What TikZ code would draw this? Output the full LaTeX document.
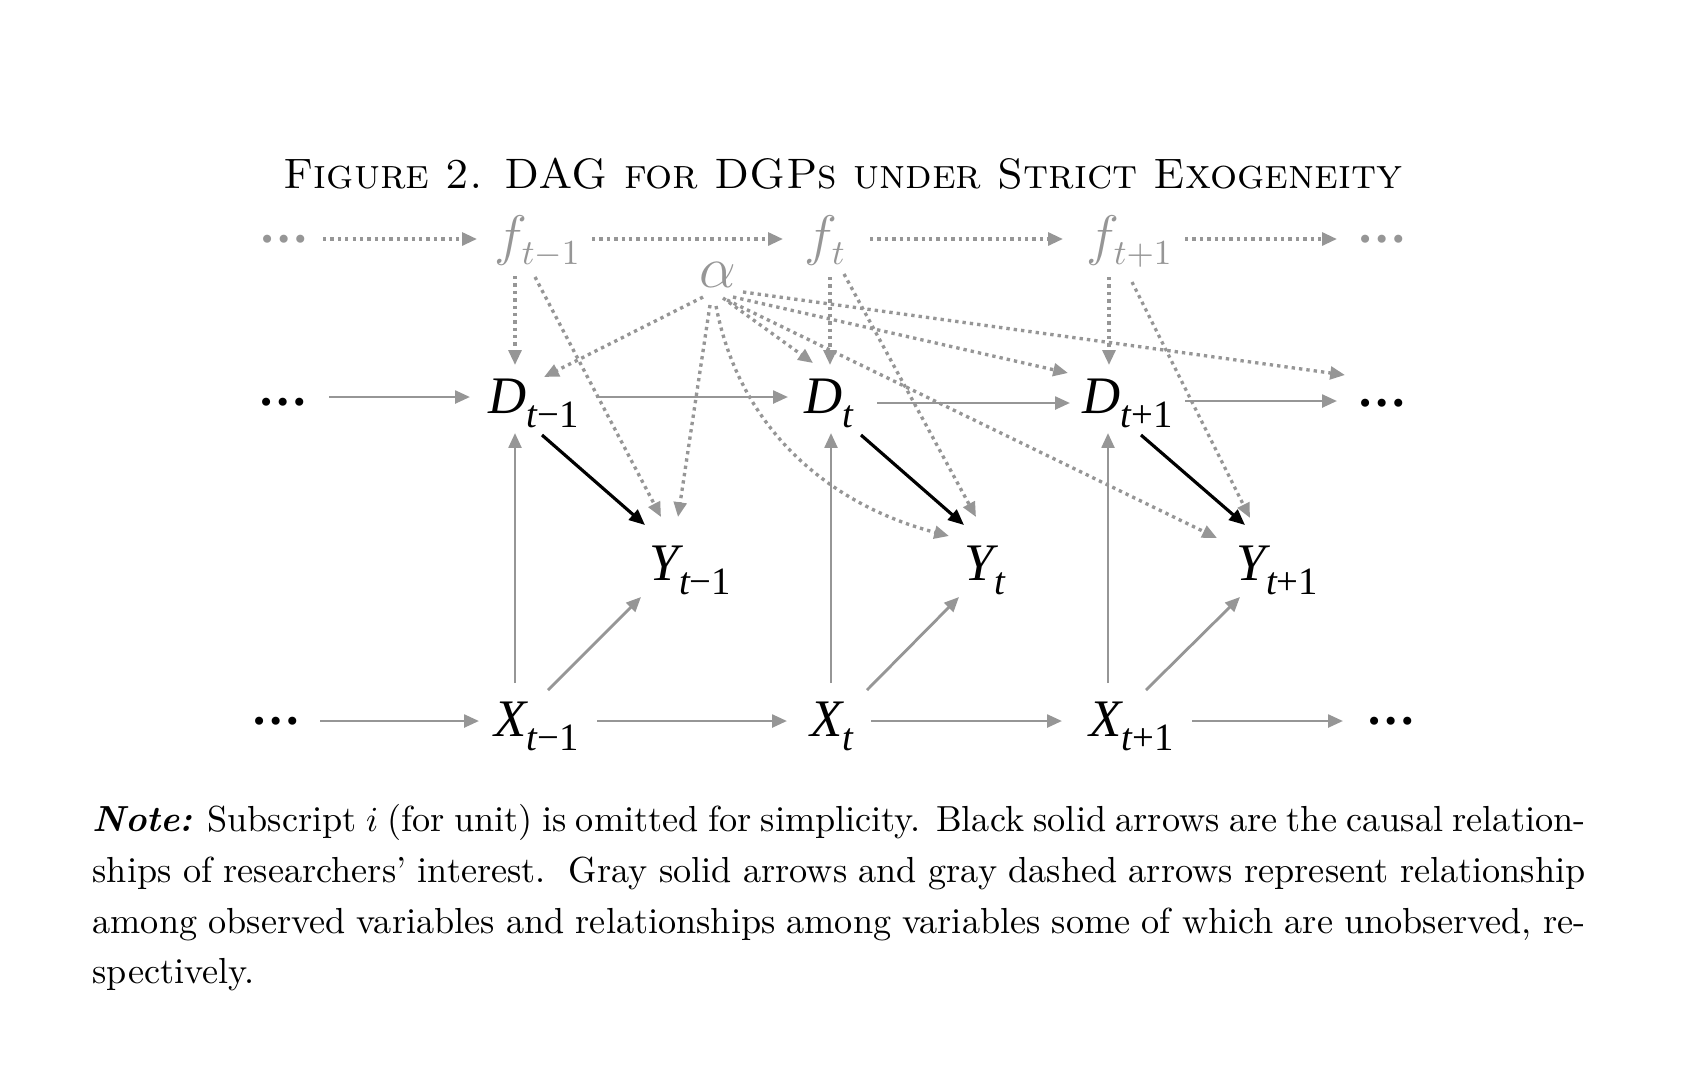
\documentclass[tikz,border=0pt]{standalone}
\usepackage{graphicx}
\usepackage{fontspec}
\usetikzlibrary{arrows.meta,calc}
\newfontfamily\tms{Liberation Serif}
\definecolor{gr}{RGB}{150,150,150}
\newcommand\vsub[2]{{\fontsize{15}{18}\selectfont\tms\itshape #1}\raisebox{-4pt}{\fontsize{11}{13}\selectfont\tms\itshape #2}}
\newcommand\fsub[1]{\scalebox{1.1}{\fontsize{14.4}{17}\selectfont$f$}\kern-1.6pt\raisebox{-3pt}{\fontsize{14.4}{17}\selectfont$\scriptstyle #1$}}
\newcommand\nfont{\fontsize{10.3}{13}\selectfont}
\tikzset{
  var/.style={inner sep=0pt, anchor=base west},
  fvar/.style={inner sep=0pt, anchor=base west, text=gr},
  ellip/.style={inner sep=0pt, anchor=center, font=\fontsize{14}{14}\selectfont\tms\bfseries},
  garr/.style={draw=gr, line width=0.8pt, -{Triangle[length=4.2pt,width=3.6pt]}},
  barr/.style={draw=black, line width=0.9pt, -{Triangle[length=4.5pt,width=3.8pt]}},
  darr/.style={draw=gr, line width=0.95pt, dash pattern=on 0.95pt off 1.15pt, -{Triangle[length=4.2pt,width=3.6pt]}},
}
\begin{document}
\begin{tikzpicture}[x=0.01cm,y=-0.01cm]
\useasboundingbox (0,0) rectangle (1690,1084);
\fill[white] (0,0) rectangle (1690,1084);

% title
\node[inner sep=0pt, anchor=base] (title) at (843,188)
  {\resizebox{11.18cm}{!}{\textsc{Figure 2. DAG for DGPs under Strict Exogeneity}}};

% f row
\node[ellip, text=gr] (fdl) at (284,239) {…};
\node[fvar] (fm) at (494,254) {\fsub{t-1}};
\node[fvar] (f0) at (804,254) {\fsub{t}};
\node[fvar] (fp) at (1086,254) {\fsub{t+1}};
\node[ellip, text=gr] (fdr) at (1382,239) {…};
\node[inner sep=0pt, text=gr] (al) at (718,275) {\scalebox{1.15}{\fontsize{14.4}{17}\selectfont$\alpha$}};

% D row
\node[ellip] (ddl) at (283,402) {…};
\node[var] (Dm) at (488,413) {\vsub{D}{t\upshape −1}};
\node[var] (D0) at (804,413) {\vsub{D}{t}};
\node[var] (Dp) at (1082,413) {\vsub{D}{t\upshape +1}};
\node[ellip] (ddr) at (1382,403) {…};

% Y row
\node[var] (Ym) at (649,580) {\vsub{Y}{t\upshape −1}};
\node[var] (Y0) at (964,580) {\vsub{Y}{t}};
\node[var] (Yp) at (1236,580) {\vsub{Y}{t\upshape +1}};

% X row
\node[ellip] (xdl) at (276,721) {…};
\node[var] (Xm) at (494,736) {\vsub{X}{t\upshape −1}};
\node[var] (X0) at (810,736) {\vsub{X}{t}};
\node[var] (Xp) at (1089,736) {\vsub{X}{t\upshape +1}};
\node[ellip] (xdr) at (1391,721) {…};

% f row arrows
\draw[darr] ($(fdl)+(39,0)$) -- ($(fm.base west)+(-17,-15)$);
\draw[darr] ($(fm.base west)+(98,-15)$) -- ($(f0.base west)+(-21,-15)$);
\draw[darr] ($(f0.base west)+(66,-15)$) -- ($(fp.base west)+(-23,-15)$);
\draw[darr] ($(fp.base west)+(99,-15)$) -- ($(fdr)+(-45,0)$);

% D row arrows
\draw[garr] ($(ddl)+(46,-5)$) -- ($(Dm.base west)+(-18,-16)$);
\draw[garr] ($(Dm.base west)+(108,-16)$) -- ($(D0.base west)+(-16,-16)$);
\draw[garr] ($(D0.base west)+(73,-10)$) -- ($(Dp.base west)+(-12,-10)$);
\draw[garr] ($(Dp.base west)+(103,-12)$) -- ($(ddr)+(-45,-2)$);

% X row arrows
\draw[garr] ($(xdl)+(44,0)$) -- ($(Xm.base west)+(-15,-15)$);
\draw[garr] ($(Xm.base west)+(103,-15)$) -- ($(X0.base west)+(-23,-15)$);
\draw[garr] ($(X0.base west)+(61,-15)$) -- ($(Xp.base west)+(-27,-15)$);
\draw[garr] ($(Xp.base west)+(103,-15)$) -- ($(xdr)+(-48,0)$);

% X -> D
\draw[garr] ($(Xm.base west)+(21,-53)$) -- ($(Dm.base west)+(27,20)$);
\draw[garr] ($(X0.base west)+(21,-53)$) -- ($(D0.base west)+(27,20)$);
\draw[garr] ($(Xp.base west)+(19,-53)$) -- ($(Dp.base west)+(26,20)$);

% X -> Y
\draw[garr] ($(Xm.base west)+(54,-46)$) -- ($(Ym.base west)+(-8,17)$);
\draw[garr] ($(X0.base west)+(57,-46)$) -- ($(Y0.base west)+(-5,17)$);
\draw[garr] ($(Xp.base west)+(57,-46)$) -- ($(Yp.base west)+(4,17)$);

% D -> Y (black)
\draw[barr] ($(Dm.base west)+(54,22)$) -- ($(Ym.base west)+(-4,-55)$);
\draw[barr] ($(D0.base west)+(57,22)$) -- ($(Y0.base west)+(0,-55)$);
\draw[barr] ($(Dp.base west)+(59,22)$) -- ($(Yp.base west)+(9,-55)$);

% f -> D
\draw[darr] ($(fm.base west)+(21,22)$) -- ($(Dm.base west)+(27,-48)$);
\draw[darr] ($(f0.base west)+(26,23)$) -- ($(D0.base west)+(26,-48)$);
\draw[darr] ($(fp.base west)+(23,23)$) -- ($(Dp.base west)+(27,-48)$);

% f -> Y
\draw[darr] ($(fm.base west)+(41,23)$) -- ($(Ym.base west)+(12,-63)$);
\draw[darr] ($(f0.base west)+(40,20)$) -- ($(Y0.base west)+(12,-63)$);
\draw[darr] ($(fp.base west)+(46,28)$) -- ($(Yp.base west)+(14,-62)$);

% alpha arrows
\draw[darr] ($(al)+(-15,22)$) -- ($(Dm.base west)+(56,-36)$);
\draw[darr] ($(al)+(-8,30)$) -- ($(Ym.base west)+(29,-63)$);
\draw[darr] ($(al)+(-2,31)$) .. controls (740,430) and (830,505) .. ($(Y0.base west)+(-15,-44)$);
\draw[darr] ($(al)+(5,23)$) -- ($(D0.base west)+(9,-50)$);
\draw[darr] ($(al)+(9,25)$) -- ($(Yp.base west)+(-19,-42)$);
\draw[darr] ($(al)+(15,22)$) -- ($(Dp.base west)+(-14,-40)$);
\draw[darr] ($(al)+(25,17)$) -- ($(ddr)+(-37,-28)$);

% note
\node[var] (n1) at (92,831) {\hbox to 14.92cm{\nfont\textbf{\textit{Note:}} Subscript $i$ (for unit) is omitted for simplicity. Black solid arrows are the causal relation-}};
\node[var] (n2) at (92,882) {\hbox to 14.92cm{\nfont ships of researchers’ interest.\ \ Gray solid arrows and gray dashed arrows represent relationship}};
\node[var] (n3) at (92,933) {\hbox to 14.92cm{\nfont among observed variables and relationships among variables some of which are unobserved, re-}};
\node[var] (n4) at (92,983) {\nfont spectively.};
\end{tikzpicture}
\end{document}
